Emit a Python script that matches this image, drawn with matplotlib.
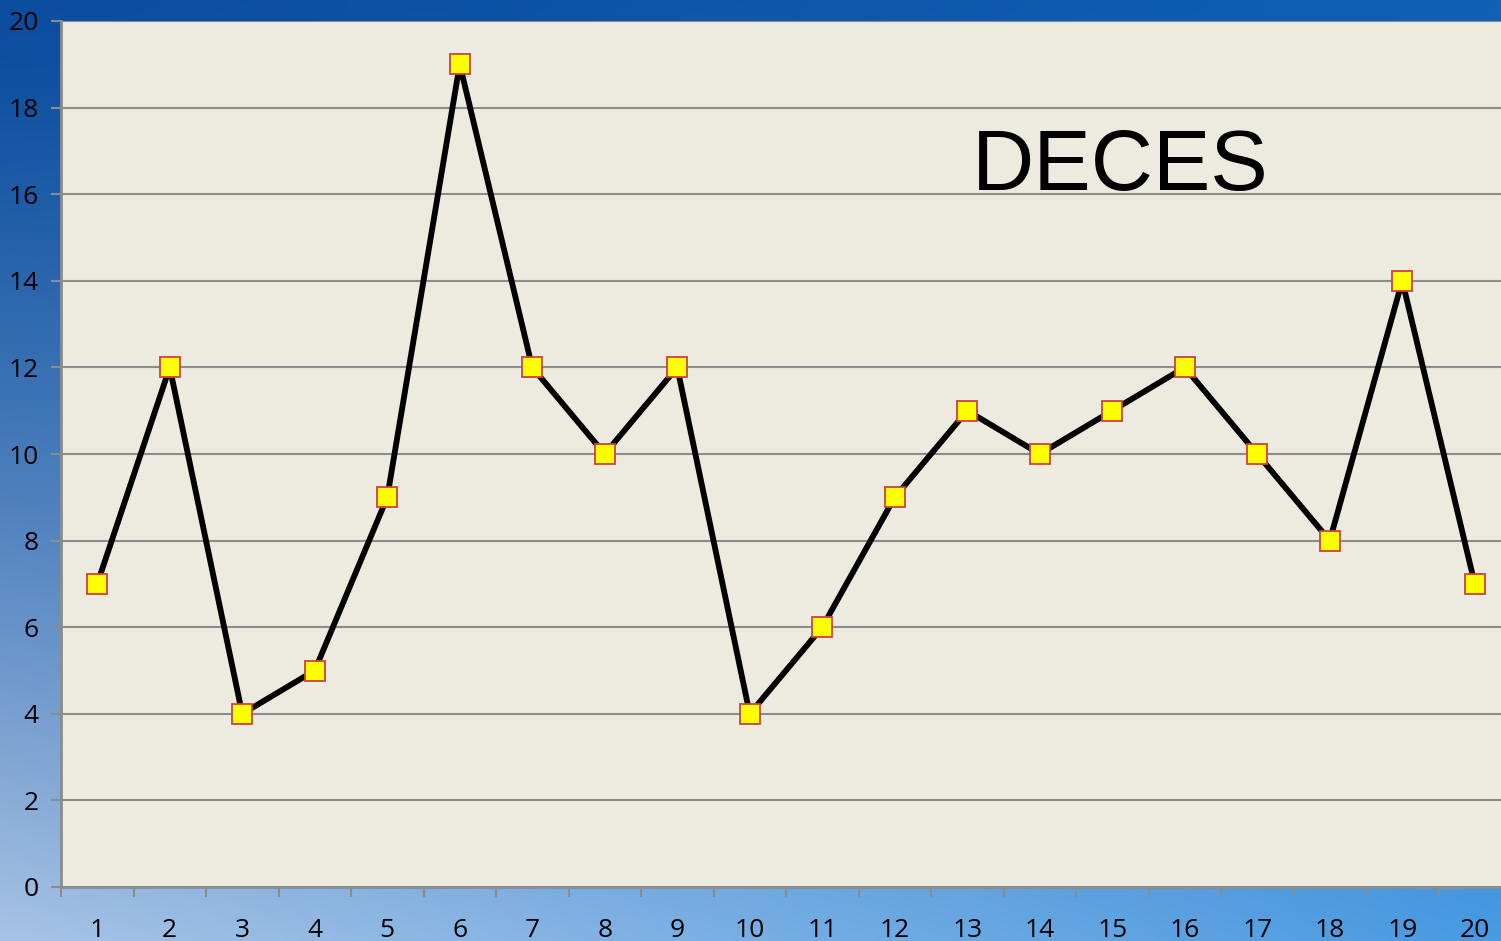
import numpy as np
import matplotlib.pyplot as plt

# données
jours = [str(i) for i in range(1, 21)]
deces = [7, 12, 4, 5, 9, 19, 12, 10, 12, 4, 6, 9, 11, 10, 11, 12, 10, 8, 14, 7]
y_ticks = list(range(0, 21, 2))

W, H = 1501, 941
fig = plt.figure(figsize=(W / 100, H / 100), dpi=100)

# fond dégradé bleu (ciel)
tl = np.array([0x0A, 0x4D, 0x9E]) / 255
tr = np.array([0x10, 0x60, 0xB8]) / 255
bl = np.array([0xA8, 0xC3, 0xE5]) / 255
br = np.array([0x48, 0x9A, 0xE2]) / 255
u = np.linspace(0, 1, 200)[None, :, None]
v = np.linspace(0, 1, 130)[:, None, None] ** 1.3
grad = (1 - v) * ((1 - u) * tl + u * tr) + v * ((1 - u) * bl + u * br)
bg = fig.add_axes([0, 0, 1, 1])
bg.imshow(grad, aspect='auto', extent=[0, 1, 0, 1], interpolation='bilinear')
bg.axis('off')

ax = fig.add_axes([61 / W, (H - 887) / H, (1511 - 61) / W, (887 - 21) / H])
ax.set_facecolor('#EDEBE0')
x = np.arange(len(jours))
ax.plot(x, deces, color='black', lw=4.2, marker='s', ms=14,
        mfc='#FFFF00', mec='#D04040', mew=1.3, zorder=3, clip_on=False)

ax.set_xlim(-0.5, len(jours) - 0.5)
ax.set_ylim(0, 20)
ax.set_yticks(y_ticks)
ax.set_xticks(x)
ax.set_xticklabels(jours)
ax.set_xticks(np.arange(-0.5, len(jours)), minor=True)
ax.grid(axis='y', color='#8C8C8C', lw=1.5, zorder=1)
ax.set_axisbelow(True)

for s in ['top', 'right']:
    ax.spines[s].set_visible(False)
for s in ['left', 'bottom']:
    ax.spines[s].set_color('#8C8C8C')
    ax.spines[s].set_linewidth(2)

ax.tick_params(axis='y', length=7, width=1.5, color='#8C8C8C',
               labelsize=19, pad=9)
ax.tick_params(axis='x', which='major', length=0, labelsize=19, pad=22)
ax.tick_params(axis='x', which='minor', length=7, width=1.5, color='#8C8C8C')
for lab in ax.get_xticklabels() + ax.get_yticklabels():
    lab.set_fontfamily('Open Sans')

fig.text(1120 / W, 1 - 168 / H, 'DECES', ha='center', va='center',
         fontsize=62, family='Liberation Sans', color='black')

fig.savefig('out.png', dpi=100)
